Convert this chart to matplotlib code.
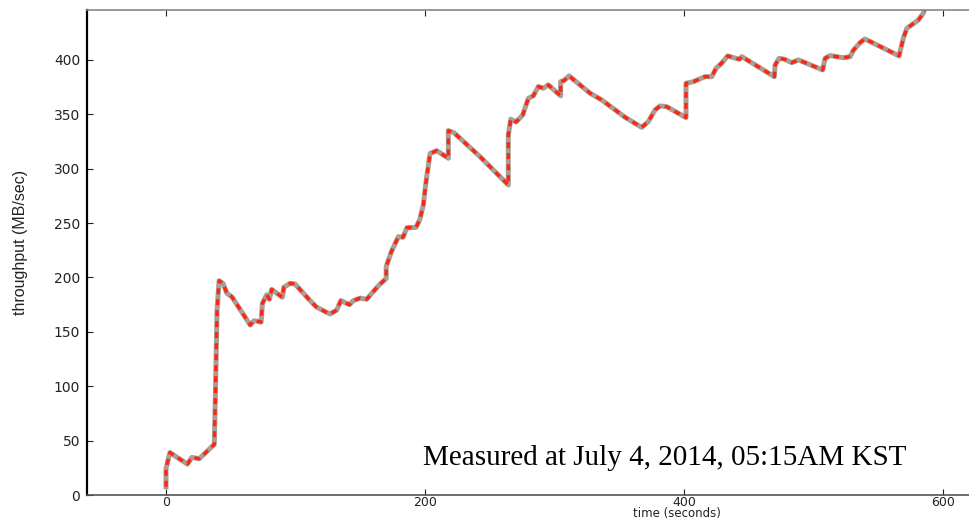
import matplotlib
matplotlib.use("Agg")
import matplotlib.pyplot as plt

# throughput samples: time (s) and MB/sec
time_s = [0, 0, 3, 16.5, 20, 25.7, 37.3, 38.3, 39.4, 41, 44, 47, 51, 65, 68,
          73.4, 74.4, 77.7, 79.8, 81.6, 89.8, 91, 95.8, 99.6, 111, 116, 122.8,
          126.6, 131.8, 135, 141.6, 144.6, 149.8, 155, 160, 165.3, 170, 170,
          174, 179.4, 183, 186, 193, 196, 198.7, 200, 201.3, 203.9, 209, 218,
          218, 222.4, 242.5, 264.3, 264.3, 266.2, 270.3, 275.4, 279.8, 283.6,
          287.5, 291.4, 295.2, 304.7, 304.7, 307.3, 311.2, 327.4, 336.4, 354.4,
          367.3, 372.4, 377.6, 381.5, 386.6, 401.5, 401.5, 407.2, 416.2, 421.4,
          424.7, 429, 433.7, 436.8, 442.7, 444.6, 469.7, 470.3, 473.4, 477.5,
          483.2, 488.3, 507, 508.9, 512.7, 523, 528.2, 530.8, 536, 539.6, 566,
          569.3, 572, 581, 584.8, 586]
throughput = [7.6, 24.5, 39, 28.5, 34.6, 33.4, 46.6, 102.7, 170, 197, 194.6,
              185.5, 182, 156.3, 160.3, 159, 176, 184, 180, 189, 181.8, 191,
              194.6, 194, 179, 173, 168.6, 166.4, 170, 178.7, 175, 178.7, 181,
              180, 187, 194, 199, 210, 223.7, 237.5, 237, 245.8, 246, 253.5,
              266.7, 280.5, 292.7, 314, 316.6, 309.6, 335, 333, 311, 285, 331,
              345.5, 343, 349.4, 364.7, 367, 375.5, 374, 377, 367, 380, 381,
              385.3, 369.4, 363.2, 347.3, 338, 343.3, 354, 357.7, 357, 347,
              378.5, 380, 384.6, 384.6, 392.3, 397, 403.7, 402.5, 400.6, 403,
              384.6, 395.4, 401.5, 400.6, 397.5, 400, 390.8, 401.5, 404, 402,
              403, 409, 416, 419.3, 403.7, 420, 429, 436.8, 443, 448]

x_ticks = [0, 200, 400, 600]
y_ticks = [0, 50, 100, 150, 200, 250, 300, 350, 400]
note = "Measured at July 4, 2014, 05:15AM KST"

fig = plt.figure(figsize=(9.69, 5.2), dpi=100)
ax = fig.add_axes([0.0898, 0.048, 0.9102, 0.933])

# gray base line with red dashes on top
ax.plot(time_s, throughput, color="#a89e93", lw=3.6, solid_joinstyle="round")
ax.plot(time_s, throughput, color="#ff2414", lw=2.4, linestyle=(0, (1.8, 1.5)))

ax.set_xlim(-61, 620)
ax.set_ylim(0, 446)
ax.set_xticks(x_ticks)
ax.set_yticks(y_ticks)
ax.tick_params(direction="in", length=4, width=0.8, labelsize=10,
               colors="#222222", top=True, right=False, pad=5)
ax.tick_params(axis="x", labelsize=9, pad=0.5)

ax.spines["right"].set_visible(False)
ax.spines["left"].set_color("black")
ax.spines["left"].set_linewidth(1.6)
ax.spines["bottom"].set_color("#555555")
ax.spines["bottom"].set_linewidth(1.2)
ax.spines["top"].set_color("#888888")
ax.spines["top"].set_linewidth(1.2)

ax.set_xlabel("time (seconds)", fontsize=8.5, color="#222222", va="bottom")
ax.xaxis.set_label_coords(0.669, -0.0515)
ax.set_ylabel("throughput (MB/sec)", fontsize=11.5, color="#222222",
              family=["Liberation Sans", "DejaVu Sans"])
ax.yaxis.set_label_coords(-0.067, 0.52)

ax.text(0.381, 0.062, note, transform=ax.transAxes, fontsize=21,
        family=["Liberation Serif", "DejaVu Serif"], va="baseline", ha="left")

fig.savefig("out.png", dpi=100)
